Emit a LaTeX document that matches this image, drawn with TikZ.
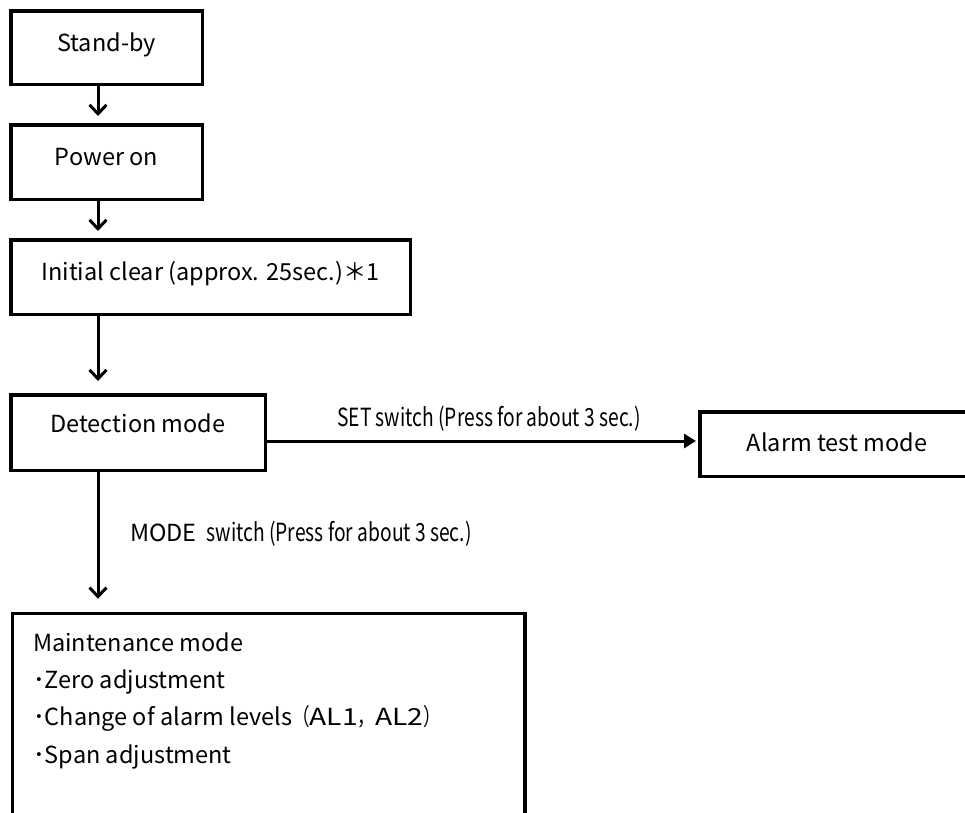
\documentclass[tikz,border=0pt]{standalone}
\usepackage{fontspec}
\setmainfont{Noto Sans CJK JP}
\usepackage{graphicx}
\usetikzlibrary{arrows.meta}
\newcommand{\narrowch}[1]{\scalebox{0.75}[1]{#1}}
\newcommand{\wideltr}[1]{\scalebox{1.2}[1]{#1}}
\begin{document}
\begin{tikzpicture}[x=1pt,y=-1pt,
  box/.style={draw, line width=3.5pt, inner sep=0pt, text height=17pt, text depth=9.8pt, font=\fontsize{23.5}{28}\selectfont},
  flow/.style={line width=3pt, -{Straight Barb[length=9pt,width=17pt,line width=3pt]}},
  hflow/.style={line width=3pt, -{Triangle[length=12pt,width=14pt]}},
  lbl/.style={inner sep=0pt, anchor=base west, font=\fontsize{25}{28}\selectfont}
]
\useasboundingbox (0,0) rectangle (965,812);
\coordinate (ax) at (98,0);
\coordinate (hy) at (0,441);
\node[box, minimum width=191.5pt, minimum height=73.5pt] (standby) at (106.5,47.5) {Stand-by};
\node[box, minimum width=191.5pt, minimum height=74.5pt] (power) at (106.5,162) {Power on};
\node[box, minimum width=399.5pt, minimum height=74.5pt] (init) at (210.5,277) {Initial clear (approx. 25sec.)＊1};
\node[box, minimum width=254.5pt, minimum height=75.5pt, text height=14pt, text depth=14pt] (detect) at (138,432.5) {Detection mode};
\node[box, minimum width=274.5pt, minimum height=64.5pt, text height=20pt, text depth=5pt] (alarm) at (837,444) {Alarm test mode};
\node[box, anchor=north west, minimum width=512.5pt, minimum height=230pt] (maint) at (10.75,611.75) {};
\node[inner sep=0pt, anchor=base west, align=left, font=\fontsize{23.5}{37.2}\selectfont] (mtext) at (33,763)
  {Maintenance mode\\･Zero adjustment\\･Change of alarm levels\narrowch{（}\wideltr{AL1}\narrowch{，}\wideltr{AL2}\narrowch{）}\\･Span adjustment};
\draw[flow, shorten >=7pt] (standby.south -| ax) -- (power.north -| ax);
\draw[flow, shorten >=7pt] (power.south -| ax) -- (init.north -| ax);
\draw[flow, shorten >=12pt] (init.south -| ax) -- (detect.north -| ax);
\draw[flow, shorten >=13pt] (detect.south -| ax) -- (maint.north -| ax);
\draw[hflow, shorten >=2pt] (detect.east |- hy) -- (alarm.west |- hy);
\node[lbl] (setlbl) at (337,426) {\scalebox{0.77}[1]{SET switch (Press for about 3 sec.)}};
\node[lbl, font=\fontsize{23.5}{28}\selectfont] (modelbl) at (130,541) {MODE\hspace{10pt}\fontsize{25}{28}\selectfont\scalebox{0.77}[1]{switch (Press for about 3 sec.)}};
\end{tikzpicture}
\end{document}
